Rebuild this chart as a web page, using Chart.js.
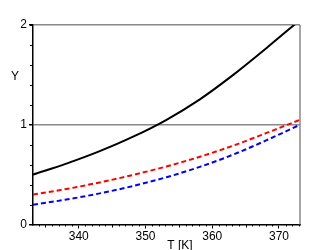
<!DOCTYPE html>
<html>
<head>
<meta charset="utf-8">
<script src="https://cdn.jsdelivr.net/npm/chart.js@4"></script>
<style>
  html, body { margin: 0; padding: 0; background: #fff; }
  #wrap { width: 332px; height: 250px; }
</style>
</head>
<body>
<div id="wrap"><canvas id="myChart" width="332" height="250"></canvas></div>
<script>
// temperatures in K and the three curves
let temps = [333.15, 338.15, 343.15, 348.15, 353.15, 358.15, 363.15, 368.15, 373.15];
let blackY = [0.50, 0.61, 0.735, 0.88, 1.05, 1.255, 1.50, 1.77, 2.05];
let redY = [0.30, 0.356, 0.422, 0.497, 0.582, 0.679, 0.791, 0.918, 1.05];
let blueY = [0.199, 0.250, 0.312, 0.386, 0.474, 0.578, 0.701, 0.845, 1.0];
let xTicks = [340, 350, 360, 370];
let yTicks = [0, 1, 2];

const toPoints = (ys) => temps.map((t, i) => ({ x: t, y: ys[i] }));
const font = { family: 'Liberation Sans, Arial, sans-serif', size: 12 };

// minor ticks, right border and the axis titles
const extras = {
    id: 'extras',
    afterDraw(chart) {
        const c = chart.ctx, a = chart.chartArea;
        const xs = chart.scales.x, ys = chart.scales.y;
        c.save();
        c.strokeStyle = '#000';
        c.lineWidth = 1;
        for (let t = 334; t <= 373; t++) {
            if (t % 10 === 0) continue;
            const px = Math.round(xs.getPixelForValue(t)) + 0.5;
            const len = t % 5 === 0 ? 3 : 2;
            c.beginPath();
            c.moveTo(px, a.bottom);
            c.lineTo(px, a.bottom + len);
            c.stroke();
        }
        for (let v = 0.2; v < 2; v += 0.2) {
            if (Math.abs(v - 1) < 0.01) continue;
            const py = Math.round(ys.getPixelForValue(v)) + 0.5;
            c.beginPath();
            c.moveTo(a.left, py);
            c.lineTo(a.left - 3, py);
            c.stroke();
        }
        c.strokeStyle = '#888';
        c.lineWidth = 1.5;
        c.beginPath();
        c.moveTo(a.right, a.top);
        c.lineTo(a.right, a.bottom);
        c.stroke();
        c.fillStyle = '#000';
        c.font = '12px ' + font.family;
        c.textAlign = 'center';
        c.textBaseline = 'middle';
        c.fillText('Y', 15, 77);
        c.textBaseline = 'alphabetic';
        c.fillText('T [K]', 180, 249);
        c.restore();
    }
};

let ctx = document.getElementById('myChart').getContext('2d');
let myChart = new Chart(ctx, {
    type: 'line',
    data: {
        datasets: [{
            data: toPoints(blackY),
            borderColor: '#000',
            borderWidth: 2
        }, {
            data: toPoints(redY),
            borderColor: '#ff0000',
            borderWidth: 2,
            borderDash: [5, 3]
        }, {
            data: toPoints(blueY),
            borderColor: '#0000ff',
            borderWidth: 2,
            borderDash: [5, 3]
        }]
    },
    options: {
        responsive: false,
        animation: false,
        events: [],
        layout: { padding: { top: 25, right: 32, left: 0, bottom: 0 } },
        elements: {
            point: { radius: 0 },
            line: { cubicInterpolationMode: 'monotone' }
        },
        plugins: {
            legend: { display: false },
            tooltip: { enabled: false }
        },
        scales: {
            x: {
                type: 'linear',
                min: 333.15,
                max: 373.15,
                afterBuildTicks: (s) => { s.ticks = xTicks.map(v => ({ value: v })); },
                afterFit: (s) => { s.height = 25.5; },
                ticks: { color: '#000', font: font, padding: 1, maxRotation: 0 },
                grid: { drawOnChartArea: false, tickLength: 4, tickColor: '#000' },
                border: { color: '#000', width: 1.5 }
            },
            y: {
                min: 0,
                max: 2,
                afterBuildTicks: (s) => { s.ticks = yTicks.map(v => ({ value: v })); },
                afterFit: (s) => { s.width = 33; },
                ticks: { color: '#000', font: font, padding: 2 },
                grid: {
                    color: (c) => c.tick && c.tick.value === 0 ? 'rgba(0,0,0,0)' : '#888',
                    lineWidth: 1.5,
                    tickLength: 4,
                    tickColor: '#000'
                },
                border: { color: '#000', width: 1.5 }
            }
        }
    },
    plugins: [extras]
});
</script>
</body>
</html>
